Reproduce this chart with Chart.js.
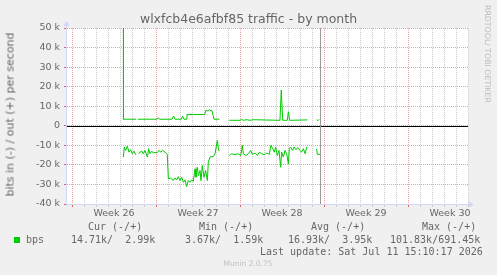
<!DOCTYPE html>
<html>
<head>
<meta charset="utf-8">
<script src="https://cdn.jsdelivr.net/npm/chart.js@4.4.1/dist/chart.umd.min.js"></script>
<style>
body { margin: 0; background: #f0f0f0; }
#wrap { position: relative; width: 497px; height: 275px; overflow: hidden; font-family: "DejaVu Sans"; color: #666; }
#wrap div { position: absolute; white-space: pre; }
canvas { position: absolute; left: 0; top: 0; }
.mono { font-family: "DejaVu Sans Mono"; font-size: 10px; line-height: 12px; }
</style>
</head>
<body>
<div id="wrap">
  <canvas id="trafficChart" width="497" height="275"></canvas>
  <div style="left:0; top:11px; width:497px; text-align:center; font-size:12.5px; line-height:15px;">wlxfcb4e6afbf85 traffic - by month</div>
  <div style="left:-90px; top:108px; width:200px; text-align:center; font-size:11px; line-height:13px; transform:rotate(-90deg);">bits in (-) / out (+) per second</div>
  <div style="left:483px; top:5px; writing-mode:vertical-rl; font-size:7.8px; color:#bcbcbc;">RRDTOOL/ TOBI OETIKER</div>

  <div class="mono" style="left:88px; top:221px;">Cur (-/+)</div>
  <div class="mono" style="left:199px; top:221px;">Min (-/+)</div>
  <div class="mono" style="left:311px; top:221px;">Avg (-/+)</div>
  <div class="mono" style="left:422px; top:221px;">Max (-/+)</div>

  <div style="left:14px; top:237px; width:6px; height:6px; background:#00cc00;"></div>
  <div class="mono" style="left:26px; top:234px;">bps</div>
  <div class="mono" style="left:71px; top:234px;">14.71k/  2.99k</div>
  <div class="mono" style="left:185px; top:234px;">3.67k/  1.59k</div>
  <div class="mono" style="left:288px; top:234px;">16.93k/  3.95k</div>
  <div class="mono" style="left:390px; top:234px;">101.83k/691.45k</div>

  <div class="mono" style="left:260px; top:246px;">Last update: Sat Jul 11 15:10:17 2026</div>
  <div style="left:148px; top:259px; width:200px; text-align:center; font-size:7.5px; line-height:9px; color:#c0c0c0;">Munin 2.0.75</div>
</div>
<script>
// x values are days counted from the start of week 26
var weekLabels = ["Week 26", "Week 27", "Week 28", "Week 29", "Week 30"];
var firstWeek = 0;
var nowDay = 20.72;

var outDays = [4.25, 4.29, 5.33, 5.42, 5.50, 7.06, 7.19, 7.33, 8.33, 8.47, 8.58, 9.11, 9.22, 9.33, 9.50, 9.58,
  11.06, 11.17, 11.31, 11.44, 11.58, 11.67, 11.83, 12.28, 12.5,
  13.11, 14.0, 14.14, 14.28, 14.56, 14.83, 15.11, 17.33, 17.44, 17.56, 17.94, 18.03, 18.14, 19.61, 19.9,
  20.39, 20.5, 20.61];
var outK = [691.45, 3.35, 3.35, null, 3.35, 3.35, 4.0, 3.35, 3.35, 5.0, 3.35, 3.35, 4.9, 3.35, 3.35, 5.75,
  5.75, 8.0, 7.5, 8.3, 7.6, 7.8, 3.35, 3.35, null,
  2.8, 2.8, 3.2, 2.8, 3.1, 2.8, 3.1, 2.8, 18.3, 2.8, 2.8, 7.2, 2.8, 3.0, null,
  3.2, 2.6, 3.3];

var inDays = [4.28, 4.36, 4.47, 4.61, 4.75, 4.89, 5.03, 5.17, 5.31, 5.42, 5.53, 5.67, 5.81, 5.94, 6.08, 6.28,
  6.39, 6.5, 6.64, 6.78, 6.92, 7.06, 7.25, 7.39, 7.56, 7.75, 7.94, 8.03, 8.22, 8.44, 8.58, 8.72, 8.86, 9.0,
  9.14, 9.28, 9.42, 9.56, 9.69, 9.83, 9.97, 10.11, 10.25, 10.33, 10.44, 10.53, 10.67, 10.75, 10.86, 11.0,
  11.14, 11.28, 11.36, 11.5, 11.78, 11.92, 12.11, 12.22, 12.28, 12.5,
  13.11, 13.31, 13.58, 13.86, 14.06, 14.19, 14.28, 14.5, 14.69, 14.89, 15.03, 15.25, 15.44, 15.61, 15.81,
  16.0, 16.22, 16.44, 16.58, 16.72, 16.86, 16.97, 17.11, 17.25, 17.39, 17.47, 17.61, 17.75, 17.89, 18.03,
  18.11, 18.22, 18.39, 18.5, 18.67, 18.81, 19.0, 19.14, 19.28, 19.42, 19.56, 19.61, 19.9,
  20.39, 20.44, 20.67];
var inK = [16.0, 10.9, 12.6, 10.5, 13.5, 12.25, 14.3, 12.9, 14.8, null, 14.3, 13.5, 12.9, 14.3, 12.6, 16.0,
  11.7, 14.3, 12.9, 14.0, 13.5, 14.0, 12.6, 13.5, 12.6, 13.5, 14.6, 27.2, 26.7, 28.0, 26.7, 27.7, 26.0, 28.0,
  26.3, 28.9, 27.7, 31.1, 28.0, 28.9, 27.7, 28.4, 22.0, 26.3, 21.2, 25.5, 22.9, 28.0, 20.3, 26.3,
  22.9, 28.0, 18.6, 16.0, 15.7, 14.3, 7.5, 12.6, 12.6, null,
  15.2, 14.3, 14.8, 14.3, 15.2, 10.0, 14.3, 15.2, 14.3, 12.6, 14.6, 14.0, 15.2, 13.5, 14.3,
  14.8, 14.0, 14.6, 10.0, 11.7, 13.5, 10.9, 15.2, 12.6, 21.2, 13.5, 16.0, 12.6, 14.3, 19.5,
  11.7, 10.9, 12.6, 10.9, 12.25, 11.2, 12.6, 13.5, 11.7, 14.3, 10.9, 11.2, null,
  11.7, 14.6, 14.6];

var MAJOR = '#e8a3a3';
var MINOR = '#cbcbcb';
var AXIS = '#cfd6f8';

var outPoints = outDays.map(function (d, i) { return { x: d, y: outK[i] }; });
var inPoints = inDays.map(function (d, i) { return { x: d, y: inK[i] === null ? null : -inK[i] }; });

var muninFrame = {
  id: 'muninFrame',
  beforeDraw: function (chart) {
    var a = chart.chartArea, c = chart.ctx;
    c.save();
    c.fillStyle = '#ffffff';
    c.fillRect(a.left, a.top, a.right - a.left, a.bottom - a.top);
    c.restore();
  },
  afterDatasetsDraw: function (chart) {
    var a = chart.chartArea, c = chart.ctx;
    var y0 = Math.round(chart.scales.y.getPixelForValue(0)) + 0.5;
    var xn = Math.floor(chart.scales.x.getPixelForValue(nowDay)) + 0.5;
    c.save();
    c.lineWidth = 1;
    c.strokeStyle = '#000000';
    c.beginPath(); c.moveTo(a.left, y0); c.lineTo(a.right, y0); c.stroke();
    c.strokeStyle = '#9a9a9a';
    c.beginPath(); c.moveTo(xn, a.top); c.lineTo(xn, a.bottom); c.stroke();
    // axes with arrows
    c.strokeStyle = AXIS;
    c.fillStyle = AXIS;
    var lx = a.left - 0.5, by = a.bottom + 0.5;
    c.beginPath(); c.moveTo(lx, a.bottom + 2); c.lineTo(lx, a.top - 4); c.stroke();
    c.beginPath(); c.moveTo(lx, a.top - 7); c.lineTo(lx - 3, a.top - 2); c.lineTo(lx + 3, a.top - 2); c.closePath(); c.fill();
    c.beginPath(); c.moveTo(a.left - 1, by); c.lineTo(a.right + 2, by); c.stroke();
    c.beginPath(); c.moveTo(a.right + 6, by); c.lineTo(a.right + 1, by - 3); c.lineTo(a.right + 1, by + 3); c.closePath(); c.fill();
    c.restore();
  }
};

var myContext = document.getElementById("trafficChart").getContext('2d');
Chart.defaults.font.family = "DejaVu Sans";
var myChart = new Chart(myContext, {
  type: 'line',
  data: {
    datasets: [{
      label: 'out',
      data: outPoints,
      borderColor: '#00cc00',
      borderWidth: 1,
      pointRadius: 0,
      tension: 0,
      spanGaps: false
    }, {
      label: 'in',
      data: inPoints,
      borderColor: '#00cc00',
      borderWidth: 1,
      pointRadius: 0,
      tension: 0,
      spanGaps: false
    }]
  },
  options: {
    responsive: false,
    animation: false,
    devicePixelRatio: 1,
    layout: { padding: { left: 0, top: 28, right: 29, bottom: 0 } },
    plugins: { legend: { display: false }, tooltip: { enabled: false } },
    scales: {
      x: {
        type: 'linear',
        min: -5 / 12,
        max: 33,
        afterFit: function (s) { s.height = 71; },
        afterBuildTicks: function (s) {
          var t = [];
          for (var d = 0; d <= 33; d++) t.push({ value: d });
          for (var w = 0; w < weekLabels.length; w++) t.push({ value: firstWeek + w * 7 + 3.5 });
          s.ticks = t;
        },
        ticks: {
          autoSkip: false,
          maxRotation: 0,
          padding: 1,
          color: '#666',
          font: { size: 9.5 },
          callback: function (v) {
            var k = (v - 3.5) / 7;
            return (Number.isInteger(k) && weekLabels[k]) ? weekLabels[k] : '';
          }
        },
        grid: {
          tickLength: 3,
          color: function (ctx) {
            var v = ctx.tick.value;
            if (!Number.isInteger(v)) return 'rgba(0,0,0,0)';
            return v % 7 === 0 ? MAJOR : MINOR;
          },
          tickColor: function (ctx) {
            var v = ctx.tick.value;
            if (!Number.isInteger(v)) return 'rgba(0,0,0,0)';
            return v % 7 === 0 ? '#e06060' : MINOR;
          }
        },
        border: { display: false, dash: [1, 1] }
      },
      y: {
        min: -40,
        max: 50,
        afterFit: function (s) { s.width = 67; },
        ticks: {
          stepSize: 5,
          padding: 4,
          color: '#666',
          font: { size: 9.5 },
          callback: function (v) {
            if (v % 10 !== 0) return '';
            return v === 0 ? '0' : v + ' k';
          }
        },
        grid: {
          tickLength: 3,
          color: function (ctx) { return ctx.tick.value % 10 === 0 ? MAJOR : MINOR; },
          tickColor: function (ctx) { return ctx.tick.value % 10 === 0 ? '#e06060' : 'rgba(0,0,0,0)'; }
        },
        border: { display: false, dash: [1, 1] }
      }
    }
  },
  plugins: [muninFrame]
});
</script>
</body>
</html>
